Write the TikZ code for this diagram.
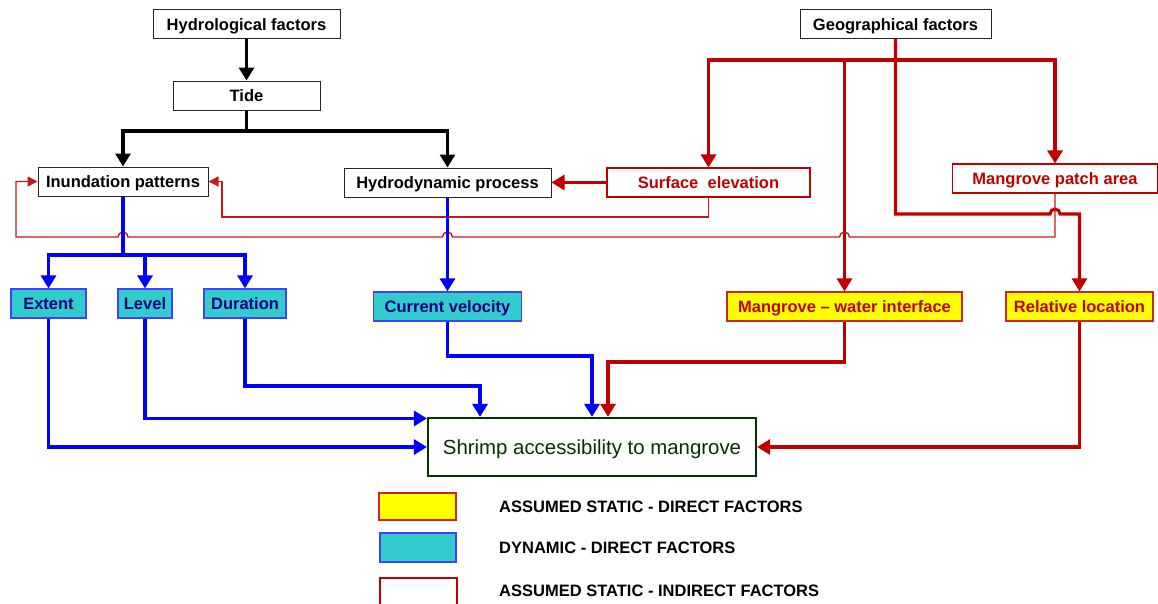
\documentclass[tikz,border=0pt]{standalone}
\usepackage{fontspec}
\setmainfont{Liberation Sans}
\usetikzlibrary{arrows.meta,calc}
\definecolor{geored}{HTML}{C00000}
\definecolor{dynblue}{HTML}{0000FF}
\definecolor{dynfill}{HTML}{33CCCC}
\definecolor{dyntext}{HTML}{000080}
\definecolor{statfill}{HTML}{FFFF00}
\definecolor{outgreen}{HTML}{003300}
\begin{document}
\begin{tikzpicture}[x=1pt,y=-1pt,
		lbl/.style={font=\fontsize{16.5}{19}\selectfont\bfseries,inner sep=0pt,minimum height=29pt,text height=12pt,text depth=0pt},
		plainbox/.style={lbl,draw=black!85,line width=1pt,fill=white},
		indirect/.style={lbl,draw=geored,line width=1.2pt,fill=white,text=geored},
		dynbox/.style={lbl,draw=dynblue!75,line width=1.2pt,fill=dynfill,text=dyntext},
		statbox/.style={lbl,draw=geored!85,line width=1.2pt,fill=statfill,text=geored},
		blkline/.style={line width=3.1pt,black},
		blueline/.style={line width=3.1pt,dynblue},
		redline/.style={line width=3.1pt,geored},
		thinred/.style={line width=1.4pt,geored!90},
		tip/.style={-{Triangle[width=15pt,length=13pt]}},
		smalltip/.style={-{Triangle[width=10pt,length=10pt]}}]
	\useasboundingbox (0,0) rectangle (1158,603);

	\node[plainbox,minimum width=187pt] (hydrof) at (246.5,24) {Hydrological factors};
	\node[plainbox,minimum width=147pt] (tide) at (246.5,95.5) {Tide};
	\node[plainbox,minimum width=170pt] (inund) at (123,181.5) {Inundation patterns};
	\node[plainbox,minimum width=207pt] (hydro) at (447.5,182.5) {Hydrodynamic process};
	\node[indirect,minimum width=203pt] (surf) at (708.5,182.5) {Surface\ \ elevation};
	\node[plainbox,minimum width=191pt] (geo) at (895.5,24) {Geographical factors};
	\node[indirect,minimum width=205pt] (patch) at (1055,178.5) {Mangrove patch area};

	\node[dynbox,minimum width=75pt] (extent) at (48.5,303.5) {Extent};
	\node[dynbox,minimum width=54pt] (level) at (145,303.5) {Level};
	\node[dynbox,minimum width=82pt] (duration) at (245,303.5) {Duration};
	\node[dynbox,minimum width=148pt] (curvel) at (447.5,306.5) {Current velocity};
	\node[statbox,minimum width=235pt] (mwi) at (844.5,306.5) {Mangrove -- water interface};
	\node[statbox,minimum width=147pt] (relloc) at (1079.5,306.5) {Relative location};

	\node[draw=outgreen,line width=2.2pt,text=outgreen,font=\fontsize{20.4}{24}\selectfont,text height=14.6pt,text depth=0pt,minimum width=328pt,minimum height=58pt] (shrimp) at (592,447) {Shrimp accessibility to mangrove};

	\coordinate (toprun) at (0,60);
	\coordinate (tiderun) at (0,131);
	\coordinate (highrun) at (0,214);
	\coordinate (midrun) at (222,217);
	\coordinate (lowrun) at (16,237);
	\coordinate (bluerun) at (0,255);
	\coordinate (velturn) at (592,356);
	\coordinate (mwiturn) at (608,362);
	\coordinate (durturn) at (480,386);

	\draw[blkline,tip] (hydrof) -- (tide);
	\draw[blkline] (tide.south) -- (tide.south |- tiderun);
	\draw[blkline,tip] (tide.south |- tiderun) -| (inund.north);
	\draw[blkline,tip] (tide.south |- tiderun) -| (hydro.north);

	\draw[redline,tip] (geo.south) -- (geo.south |- highrun) -- ($(patch.south |- highrun)+(-5,0)$) arc[start angle=180,end angle=0,radius=5pt] -| (relloc.north);
	\foreach \n in {surf,mwi,patch}
		\draw[redline,tip] (geo.south |- toprun) -| (\n.north);
	\draw[redline,tip] (surf) -- (hydro);

	\draw[thinred,smalltip] (surf.south) |- (midrun) |- (inund.east);
	\draw[thinred,smalltip] (patch.south) -- (patch.south |- lowrun) -- ($(mwi.north |- lowrun)+(5,0)$) arc[start angle=0,end angle=180,radius=5pt] -- ($(curvel.north |- lowrun)+(5,0)$) arc[start angle=0,end angle=180,radius=5pt] -- ($(inund.south |- lowrun)+(5,0)$) arc[start angle=0,end angle=180,radius=5pt] -- (lowrun) |- (inund.west);

	\draw[blueline] (inund.south) -- (inund.south |- bluerun);
	\foreach \n in {extent,level,duration}
		\draw[blueline,tip] (inund.south |- bluerun) -| (\n.north);
	\draw[blueline,tip] (hydro.south) -- (curvel.north);

	\draw[blueline,tip] (extent.south) |- (shrimp.west);
	\draw[blueline,tip] (level.south) |- ($(shrimp.north west)+(0,1.5)$);
	\draw[blueline,tip] (duration.south) |- (durturn) -- (durturn |- shrimp.north);
	\draw[blueline,tip] (curvel.south) |- (velturn) -- (shrimp.north);
	\draw[redline,tip] (mwi.south) |- (mwiturn) -- (mwiturn |- shrimp.north);
	\draw[redline,tip] (relloc.south) |- (shrimp.east);

	\node[statbox,minimum width=77pt,minimum height=27pt] (key1) at (417.5,506.5) {};
	\node[dynbox,minimum width=76pt,minimum height=29pt] (key2) at (418,547.5) {};
	\begin{scope}
		\clip (0,0) rectangle (1158,603);
		\node[indirect,minimum width=77pt,minimum height=32pt] (key3) at (418.5,594) {};
	\end{scope}
	\node[lbl,anchor=west] (keytext1) at (499,506) {ASSUMED STATIC - DIRECT FACTORS};
	\node[lbl,anchor=west] (keytext2) at (499,547) {DYNAMIC - DIRECT FACTORS};
	\node[lbl,anchor=west] (keytext3) at (499,590) {ASSUMED STATIC - INDIRECT FACTORS};
\end{tikzpicture}
\end{document}
